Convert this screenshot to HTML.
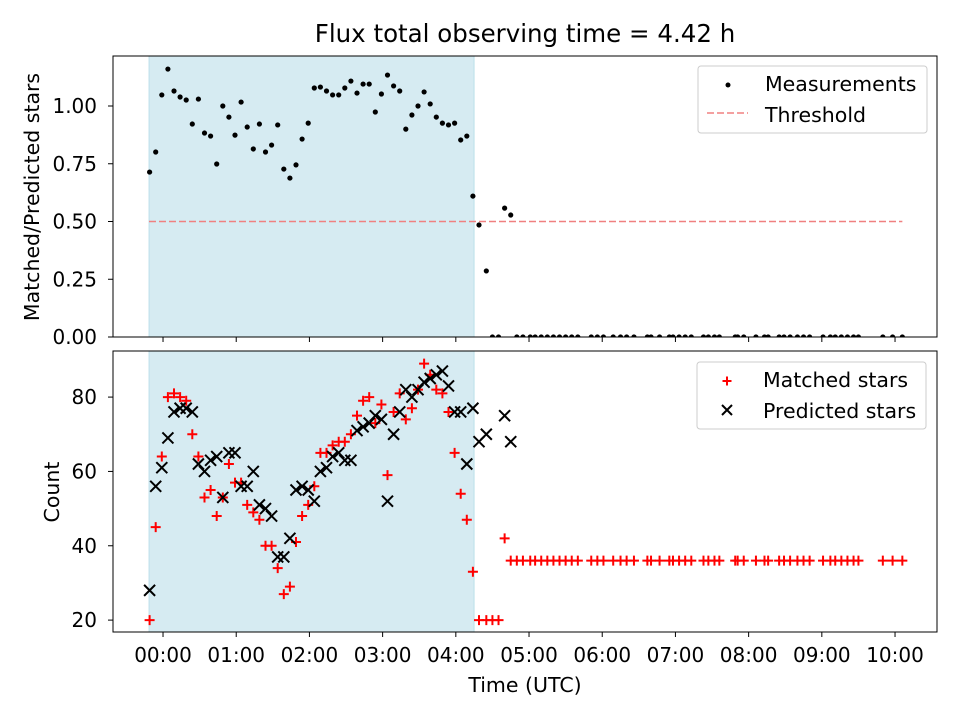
<!DOCTYPE html>
<html><head><meta charset="utf-8"><style>
html,body{margin:0;background:#fff;width:960px;height:720px;overflow:hidden}
svg{font-family:"DejaVu Sans","Liberation Sans",sans-serif;display:block}
</style></head><body>
<div style="position:relative;width:960px;height:720px">
<svg id="chart" width="960" height="720" xmlns="http://www.w3.org/2000/svg" style="position:absolute;left:0;top:0"></svg>
<svg width="960" height="720" xmlns="http://www.w3.org/2000/svg" style="position:absolute;left:0;top:0;pointer-events:none">
<text x="525" y="42" text-anchor="middle" font-size="24.5">Flux total observing time = 4.42 h</text>
<text transform="translate(39,197) rotate(-90)" text-anchor="middle" font-size="20.5">Matched/Predicted stars</text>
<text transform="translate(59,492) rotate(-90)" text-anchor="middle" font-size="20.5">Count</text>
<text x="525" y="692" text-anchor="middle" font-size="20.5">Time (UTC)</text>
<g>
<rect x="698" y="66" width="229" height="67" rx="3" fill="#fff" fill-opacity="0.8" stroke="#ccc"/>
<circle cx="728" cy="85" r="2.5" fill="#000"/>
<text x="765" y="91" font-size="20.5">Measurements</text>
<line x1="707" x2="748" y1="113" y2="113" stroke="#f08080" stroke-width="1.6" stroke-dasharray="7,3"/>
<text x="765" y="122" font-size="20.5">Threshold</text>
</g>
<g>
<rect x="697" y="362" width="229" height="67" rx="3" fill="#fff" fill-opacity="0.8" stroke="#ccc"/>
<path d="M722.5,381h9M727,376.5v9" stroke="#f00" stroke-width="2"/>
<text x="763" y="387" font-size="20.5">Matched stars</text>
<path d="M722,405l10,10M722,415l10,-10" stroke="#000" stroke-width="2"/>
<text x="763" y="418" font-size="20.5">Predicted stars</text>
</g>
</svg>
</div>
<script>
const times=[-11,-6,-1,4,9,14,19,24,29,34,39,44,49,54,59,64,69,74,79,84,89,94,99,104,109,114,119,124,129,134,139,144,149,154,159,164,169,174,179,184,189,194,199,204,209,214,219,224,229,234,239,244,249,254,259,265,280,285];
const ratio=[0.714,0.801,1.048,1.16,1.065,1.039,1.026,0.922,1.03,0.883,0.87,0.749,1.0,0.952,0.874,1.017,0.909,0.814,0.922,0.801,0.831,0.918,0.727,0.688,0.745,0.857,0.926,1.078,1.082,1.065,1.048,1.048,1.078,1.108,1.056,1.095,1.095,0.974,1.052,1.134,1.087,1.065,0.9,0.961,1.0,1.061,1.009,0.952,0.926,0.918,0.926,0.853,0.87,0.61,0.485,0.286,0.558,0.528];
const matched=[20,45,64,80,81,80,79,70,64,53,55,48,53,62,57,57,51,49,47,40,40,34,27,29,41,48,51,56,65,65,67,68,68,70,75,79,80,73,78,59,76,81,74,77,82,89,86,82,81,76,65,54,47,33,20,20,42,36];
const predicted=[28,56,61,69,76,77,77,76,62,60,63,64,53,65,65,56,56,60,51,50,48,37,37,42,55,56,55,52,60,61,64,65,63,63,71,72,73,75,74,52,70,76,82,80,82,84,85,86,87,83,76,76,62,77,68,70,75,68];
const zeroTimes=[270,275,290,295,301,305,310,315,320,325,330,335,340,351,356,361,369,375,380,386,397,400,407,415,418,423,428,433,443,447,452,456,469,471,476,486,493,496,505,509,514,520,525,530,541,547,551,556,561,566,570,590,598,606];
const zeroMatched=[20,20,36,36,36,36,36,36,36,36,36,36,36,36,36,36,36,36,36,36,36,36,36,36,36,36,36,36,36,36,36,36,36,36,36,36,36,36,36,36,36,36,36,36,36,36,36,36,36,36,36,36,36,36];
const xTicks=[0,60,120,180,240,300,360,420,480,540,600];
const xTickLabels=["00:00","01:00","02:00","03:00","04:00","05:00","06:00","07:00","08:00","09:00","10:00"];
const topTicks=[0,0.25,0.5,0.75,1.0];
const botTicks=[20,40,60,80];
const threshold=0.5, shadeStart=-11.5, shadeEnd=255;

const NS="http://www.w3.org/2000/svg";
const svg=document.getElementById('chart');
const L=113,R=937,T1=56,B1=337,T2=351,B2=632;
const X=m=>L+(m+41)/(634.4+41)*(R-L);
const Y1=v=>B1-v/1.2165*(B1-T1);
const Y2=v=>B2-(v-16.8)/(92.4-16.8)*(B2-T2);
function el(tag,attrs,parent){const e=document.createElementNS(NS,tag);for(const k in attrs)e.setAttribute(k,attrs[k]);(parent||svg).appendChild(e);return e;}
function txt(s,attrs,parent){const e=el('text',attrs,parent);e.textContent=s;return e;}
const defs=el('defs',{});
const c1=el('clipPath',{id:'c1'},defs);el('rect',{x:L,y:T1,width:R-L,height:B1-T1},c1);
const c2=el('clipPath',{id:'c2'},defs);el('rect',{x:L,y:T2,width:R-L,height:B2-T2},c2);

[[T1,B1,'top'],[T2,B2,'bottom']].forEach(([t,b,n])=>{
  const s=el('rect',{x:X(shadeStart),y:t,width:X(shadeEnd)-X(shadeStart),height:b-t,fill:'#add8e6','fill-opacity':0.5,stroke:'#add8e6','stroke-opacity':0.7});
  
  
});
const gTop=el('g',{'clip-path':'url(#c1)'});


const th=el('line',{x1:X(shadeStart),x2:X(606),y1:Y1(threshold),y2:Y1(threshold),stroke:'#f08080','stroke-width':1.6,'stroke-dasharray':'7,3'});


times.forEach((t,i)=>{const d=el('circle',{cx:X(t),cy:Y1(ratio[i]),r:2.6,fill:'#000'},gTop);

});
zeroTimes.forEach(t=>{const d=el('circle',{cx:X(t),cy:Y1(0),r:2.6,fill:'#000'},gTop);

});

const gBot=el('g',{'clip-path':'url(#c2)'});


function plus(x,y,p){el('path',{d:`M${x-5},${y}h10M${x},${y-5}v10`,stroke:'#f00','stroke-width':2},p);}
function cross(x,y,p){el('path',{d:`M${x-5.5},${y-5.5}l11,11M${x-5.5},${y+5.5}l11,-11`,stroke:'#000','stroke-width':2},p);}
times.forEach((t,i)=>plus(X(t),Y2(matched[i]),gBot));
zeroTimes.forEach((t,i)=>plus(X(t),Y2(zeroMatched[i]),gBot));
times.forEach((t,i)=>cross(X(t),Y2(predicted[i]),gBot));

[[T1,B1,Y1,topTicks,v=>v.toFixed(2),'top'],[T2,B2,Y2,botTicks,v=>String(v),'bottom']].forEach(([t,b,Y,ticks,f,n])=>{
  const fr=el('rect',{x:L,y:t,width:R-L,height:b-t,fill:'none',stroke:'#000','stroke-width':1});
  
  
  ticks.forEach(v=>{const y=Y(v);el('line',{x1:L-5,x2:L,y1:y,y2:y,stroke:'#000'});
    const l=txt(f(v),{x:L-16,y:y+7,'text-anchor':'end','font-size':20});
    
    });
  xTicks.forEach(m=>el('line',{x1:X(m),x2:X(m),y1:b,y2:b+5,stroke:'#000'}));
});
xTicks.forEach((m,i)=>{const l=txt(xTickLabels[i],{x:X(m),y:B2+30,'text-anchor':'middle','font-size':20});

});
</script>
</body></html>
